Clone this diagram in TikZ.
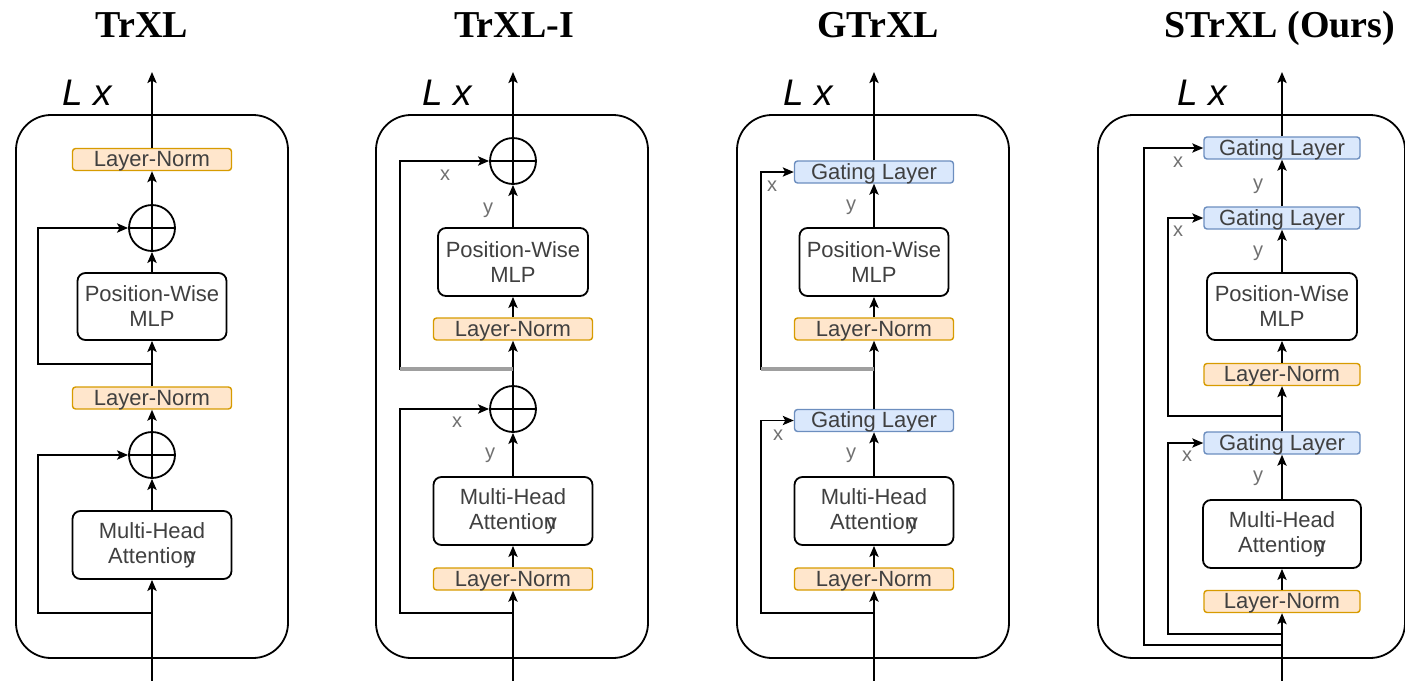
\documentclass[tikz,border=0pt]{standalone}
\usepackage{fontspec}
\setmainfont{Liberation Sans}
\newfontfamily\titlefont{Liberation Serif}
\usetikzlibrary{arrows.meta}
\definecolor{lnfill}{HTML}{FFE6CC}
\definecolor{lndraw}{HTML}{D79B00}
\definecolor{gfill}{HTML}{DAE8FC}
\definecolor{gdraw}{HTML}{6C8EBF}
\definecolor{txt}{HTML}{404040}
\definecolor{lbl}{HTML}{707070}
\tikzset{
 wire/.style={line width=0.9pt, black},
 arr/.style={wire, -{Stealth[length=5.5pt,width=4.6pt,inset=1.2pt]}},
 graybar/.style={line width=1.8pt, gray!75},
 frame/.style={draw, line width=0.9pt, rounded corners=17.5pt, minimum height=271.5pt, inner sep=0pt},
 blk/.style={draw, line width=0.9pt, rounded corners=4pt, fill=white, text=txt, font=\fontsize{11}{12.5}\selectfont, align=center, inner sep=0pt, minimum height=34pt},
 lnbox/.style={draw=lndraw, fill=lnfill, line width=0.7pt, rounded corners=1.5pt, text=txt, font=\fontsize{11}{12}\selectfont, inner sep=0pt, text height=8pt, text depth=0.8pt, minimum width=79.5pt, minimum height=11pt},
 gatebox/.style={lnbox, draw=gdraw, fill=gfill},
 addop/.style={circle, draw, line width=0.9pt, minimum size=23pt, inner sep=0pt,
   path picture={\draw[line width=0.9pt] (path picture bounding box.north) -- (path picture bounding box.south) (path picture bounding box.west) -- (path picture bounding box.east);}},
 title/.style={font=\titlefont\bfseries\fontsize{19}{21}\selectfont, anchor=base, inner sep=0pt},
 lx/.style={font=\itshape\fontsize{18.5}{20}\selectfont, anchor=base west, inner sep=0pt},
 lab/.style={text=lbl, font=\fontsize{10}{10}\selectfont, inner sep=0pt},
}
\newcommand{\attn}{Multi-Head\\Attentio\rlap{n}\kern1pt y}
\newcommand{\pwm}{Position-Wise\\MLP}
\begin{document}
\begin{tikzpicture}[x=0.5pt, y=-0.5pt]
\useasboundingbox (0,0) rectangle (1405,681);

% ================= Panel 1: TrXL =================
\node[title] (a-title) at (142,37) {TrXL};
\node[frame, minimum width=136pt] (a-frame) at (152,386.5) {};
\node[lx] (a-lx) at (62,105) {L x};
\node[lnbox] (a-ln1) at (152,159.5) {Layer-Norm};
\node[addop] (a-c1) at (152,228) {};
\node[blk, minimum width=74.5pt, minimum height=33.5pt] (a-mlp) at (152,306.5) {\pwm};
\node[lnbox] (a-ln2) at (152,398) {Layer-Norm};
\node[addop] (a-c2) at (152,455) {};
\node[blk, minimum width=79.5pt] (a-mha) at (152,545) {\attn};
\coordinate (a-in) at (152,681);
\coordinate (a-out) at (152,72);
\coordinate (a-j1) at (152,364);
\coordinate (a-j2) at (152,613);
\draw[arr] (a-in) -- (a-mha);
\draw[arr] (a-mha) -- (a-c2);
\draw[arr] (a-c2) -- (a-ln2);
\draw[arr] (a-ln2) -- (a-mlp);
\draw[arr] (a-mlp) -- (a-c1);
\draw[arr] (a-c1) -- (a-ln1);
\draw[arr] (a-ln1) -- (a-out);
\draw[arr] (a-j1) -- ++(-114,0) |- (a-c1.west);
\draw[arr] (a-j2) -- ++(-114,0) |- (a-c2.west);

% ================= Panel 2: TrXL-I =================
\node[title] (b-title) at (514,37) {TrXL-I};
\node[frame, minimum width=136pt] (b-frame) at (512,386.5) {};
\node[lx] (b-lx) at (422,105) {L x};
\node[addop] (b-c1) at (513,161) {};
\node[blk, minimum width=75pt] (b-mlp) at (513,262) {\pwm};
\node[lnbox] (b-ln1) at (513,329) {Layer-Norm};
\node[addop] (b-c2) at (513,409) {};
\node[blk, minimum width=79.5pt] (b-mha) at (513,511) {\attn};
\node[lnbox] (b-ln2) at (513,579) {Layer-Norm};
\coordinate (b-in) at (513,681);
\coordinate (b-out) at (513,72);
\coordinate (b-j1) at (513,369);
\coordinate (b-j2) at (513,613);
\draw[arr] (b-in) -- (b-ln2);
\draw[arr] (b-ln2) -- (b-mha);
\draw[arr] (b-mha) -- (b-c2);
\draw[arr] (b-c2) -- (b-ln1);
\draw[arr] (b-ln1) -- (b-mlp);
\draw[arr] (b-mlp) -- (b-c1);
\draw[arr] (b-c1) -- (b-out);
\draw[arr] (b-j1) -- ++(-113,0) |- (b-c1.west);
\draw[graybar] (b-j1) -- ++(-113,0);
\draw[arr] (b-j2) -- ++(-113,0) |- (b-c2.west);
\node[lab] (b-x1) at (445,175) {x};
\node[lab] (b-y1) at (488,210) {y};
\node[lab] (b-x2) at (457,422) {x};
\node[lab] (b-y2) at (490,455) {y};

% ================= Panel 3: GTrXL =================
\node[title] (c-title) at (878,37) {GTrXL};
\node[frame, minimum width=136pt] (c-frame) at (873,386.5) {};
\node[lx] (c-lx) at (783,105) {L x};
\node[gatebox] (c-g1) at (874,172) {Gating Layer};
\node[blk, minimum width=74.5pt] (c-mlp) at (874,262) {\pwm};
\node[lnbox] (c-ln1) at (874,329) {Layer-Norm};
\node[gatebox] (c-g2) at (874,420.5) {Gating Layer};
\node[blk, minimum width=79.5pt] (c-mha) at (874,511) {\attn};
\node[lnbox] (c-ln2) at (874,579) {Layer-Norm};
\coordinate (c-in) at (874,681);
\coordinate (c-out) at (874,72);
\coordinate (c-j1) at (874,369);
\coordinate (c-j2) at (874,613);
\draw[arr] (c-in) -- (c-ln2);
\draw[arr] (c-ln2) -- (c-mha);
\draw[arr] (c-mha) -- (c-g2);
\draw[arr] (c-g2) -- (c-ln1);
\draw[arr] (c-ln1) -- (c-mlp);
\draw[arr] (c-mlp) -- (c-g1);
\draw[arr] (c-g1) -- (c-out);
\draw[arr] (c-j1) -- ++(-113,0) |- (c-g1.west);
\draw[graybar] (c-j1) -- ++(-113,0);
\draw[arr] (c-j2) -- ++(-113,0) |- (c-g2.west);
\node[lab] (c-x1) at (772,186) {x};
\node[lab] (c-y1) at (851,207) {y};
\node[lab] (c-x2) at (778,435) {x};
\node[lab] (c-y2) at (851,455) {y};

% ================= Panel 4: STrXL (Ours) =================
\node[title] (d-title) at (1280,37) {STrXL (Ours)};
\node[frame, minimum width=153.5pt] (d-frame) at (1251.5,386.5) {};
\node[lx] (d-lx) at (1177,105) {L x};
\node[gatebox, minimum width=78pt] (d-g1) at (1282,148) {Gating Layer};
\node[gatebox, minimum width=78pt] (d-g2) at (1282,218) {Gating Layer};
\node[blk, minimum width=75pt, minimum height=33.5pt] (d-mlp) at (1282,306.5) {\pwm};
\node[lnbox, minimum width=78pt] (d-ln1) at (1282,374.5) {Layer-Norm};
\node[gatebox, minimum width=78pt] (d-g3) at (1282,443) {Gating Layer};
\node[blk, minimum width=79pt] (d-mha) at (1282,534) {\attn};
\node[lnbox, minimum width=78pt] (d-ln2) at (1282,601.5) {Layer-Norm};
\coordinate (d-in) at (1282,681);
\coordinate (d-out) at (1282,72);
\coordinate (d-j1) at (1282,416);
\coordinate (d-j2) at (1282,634);
\coordinate (d-j3) at (1282,645);
\draw[arr] (d-in) -- (d-ln2);
\draw[arr] (d-ln2) -- (d-mha);
\draw[arr] (d-mha) -- (d-g3);
\draw[arr] (d-g3) -- (d-ln1);
\draw[arr] (d-ln1) -- (d-mlp);
\draw[arr] (d-mlp) -- (d-g2);
\draw[arr] (d-g2) -- (d-g1);
\draw[arr] (d-g1) -- (d-out);
\draw[arr] (d-j1) -- ++(-114,0) |- (d-g2.west);
\draw[arr] (d-j2) -- ++(-114,0) |- (d-g3.west);
\draw[arr] (d-j3) -- ++(-138,0) |- (d-g1.west);
\node[lab] (d-x1) at (1178,162) {x};
\node[lab] (d-y1) at (1258,186) {y};
\node[lab] (d-x2) at (1178,231) {x};
\node[lab] (d-y2) at (1258,253) {y};
\node[lab] (d-x3) at (1187,456) {x};
\node[lab] (d-y3) at (1258,478) {y};
\end{tikzpicture}
\end{document}
